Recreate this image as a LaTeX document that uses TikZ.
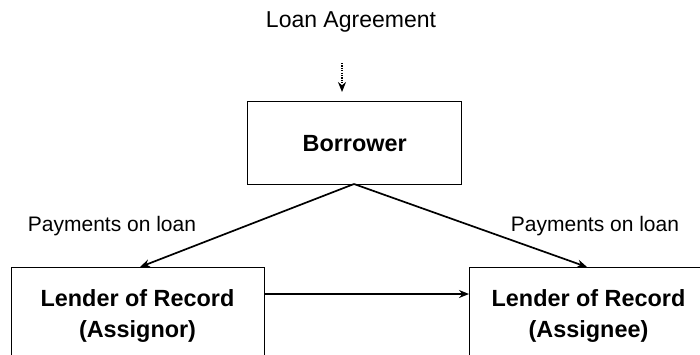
\documentclass[tikz,border=0pt]{standalone}
\usepackage{fontspec}
\setmainfont{Liberation Sans}
\usetikzlibrary{arrows.meta}
\begin{document}
\begin{tikzpicture}[x=1pt,y=-1pt,
  plainlabel/.style={inner sep=0pt, font=\fontsize{21}{25}\selectfont},
  boxtext/.style={inner sep=0pt, align=center, font=\fontsize{23.4}{31}\selectfont\bfseries},
  frame/.style={draw=black, line width=1.3pt, inner sep=0pt},
  flow/.style={draw=black, line width=1.7pt, -{Stealth[length=10pt,width=8pt]}},
  hint/.style={draw=black, line width=1.6pt, dash pattern=on 1.2pt off 1.2pt, -{Stealth[length=10pt,width=8pt]}}]
  \useasboundingbox (0,0) rectangle (700,354);
  \clip (0,0) rectangle (700,354);

  % top label and the agreement pointer
  \node[plainlabel, font=\fontsize{23}{27}\selectfont] (agreement) at (351,22) {Loan Agreement};
  \coordinate (hintstart) at (342,63);
  \coordinate (hintend) at (342,92);

  % borrower box
  \node[frame, minimum width=214pt, minimum height=83pt, anchor=north west] (borrower) at (247,101) {};
  \node[boxtext] (borrowertext) at (borrower.center) {Borrower};
  \coordinate (split) at (354,184);

  % lender boxes (run past the lower and right edges)
  \node[frame, minimum width=253pt, minimum height=110pt, anchor=north west] (assignor) at (11,267) {};
  \node[boxtext] (assignortext) at (137.5,316) {Lender of Record\\(Assignor)};
  \node[frame, minimum width=260pt, minimum height=110pt, anchor=north west] (assignee) at (469,267) {};
  \node[boxtext] (assigneetext) at (588.5,316) {Lender of Record\\(Assignee)};

  % payment labels
  \node[plainlabel] (payleft) at (112,226) {Payments on loan};
  \node[plainlabel] (payright) at (595,226) {Payments on loan};

  % connectors
  \draw[hint] (hintstart) -- (hintend);
  \coordinate (assignortop) at (140,267);
  \coordinate (assigneetop) at (587,267);
  \draw[flow] (split) -- (assignortop);
  \draw[flow] (split) -- (assigneetop);
  \draw[flow] (assignor.east |- 0,294) -- (assignee.west |- 0,294);
\end{tikzpicture}
\end{document}
